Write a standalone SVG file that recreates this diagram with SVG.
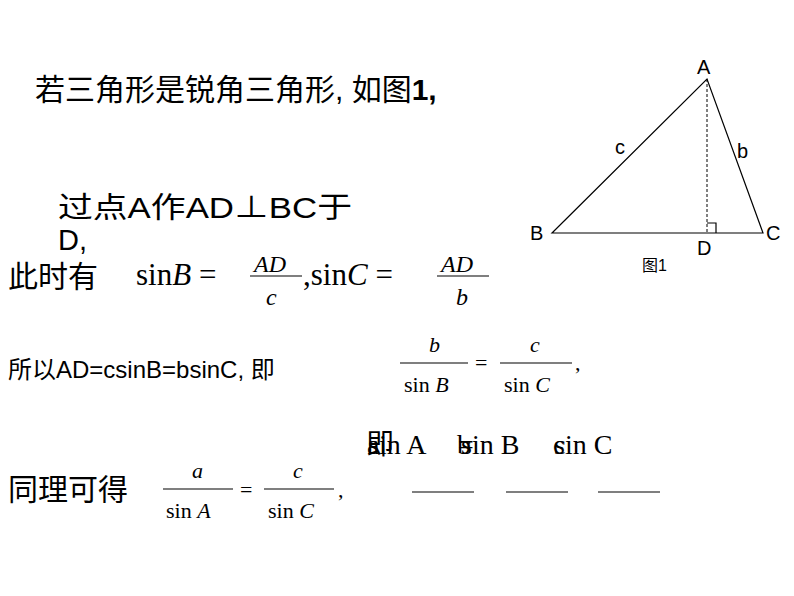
<svg xmlns="http://www.w3.org/2000/svg" width="794" height="596" viewBox="0 0 794 596">
<style>
.s{font-family:"Liberation Sans","Noto Sans CJK SC",sans-serif;fill:#000}
.m{font-family:"Liberation Serif",serif;fill:#000}
.i{font-style:italic}
.l{stroke:#000;stroke-width:1.2;fill:none}
</style>
<rect width="794" height="596" fill="#fff"/>
<text class="s" x="35" y="100" font-size="30">若三角形是锐角三角形, 如图<tspan font-weight="bold">1,</tspan></text>
<g id="triangle">
<path class="l" d="M552,233 L707,79 L763,233 Z"/>
<path d="M707,79 L707,233" stroke="#000" stroke-width="1" stroke-dasharray="3,2"/>
<path d="M707,223 H716 V233" class="l" stroke-width="1"/>
<text class="s" x="697" y="74" font-size="20">A</text>
<text class="s" x="530" y="240" font-size="20">B</text>
<text class="s" x="766" y="240" font-size="20">C</text>
<text class="s" x="697" y="255" font-size="20">D</text>
<text class="s" x="615" y="154" font-size="20">c</text>
<text class="s" x="737" y="158" font-size="20">b</text>
<text class="s" x="642" y="271" font-size="16">图1</text>
</g>
<text class="s" x="58" y="218" font-size="29" textLength="294" lengthAdjust="spacingAndGlyphs">过点A作AD⊥BC于</text>
<text class="s" x="58" y="250" font-size="29">D,</text>
<text class="s" x="8" y="287" font-size="30">此时有</text>
<text class="m" x="136" y="285" font-size="31">sin<tspan class="i">B</tspan> = </text>
<text class="m i" x="254" y="272" font-size="24">AD</text>
<line class="l" x1="250" y1="276" x2="302" y2="276"/>
<text class="m i" x="266" y="305" font-size="24">c</text>
<text class="m" x="303" y="285" font-size="31">,sin<tspan class="i">C</tspan> = </text>
<text class="m i" x="441" y="272" font-size="24">AD</text>
<line class="l" x1="437" y1="276" x2="489" y2="276"/>
<text class="m i" x="456" y="305" font-size="24">b</text>
<text class="s" x="8" y="378" font-size="24">所以AD=csinB=bsinC, 即</text>
<text class="m i" x="429" y="352" font-size="22">b</text>
<line class="l" x1="400" y1="363" x2="468" y2="363"/>
<text class="m" x="404" y="392" font-size="22">sin <tspan class="i">B</tspan></text>
<text class="m" x="475" y="370" font-size="22">=</text>
<text class="m i" x="530" y="352" font-size="22">c</text>
<line class="l" x1="500" y1="363" x2="572" y2="363"/>
<text class="m" x="504" y="392" font-size="22">sin <tspan class="i">C</tspan></text>
<text class="m" x="575" y="370" font-size="22">,</text>
<text class="s" x="8" y="500" font-size="30">同理可得</text>
<text class="m i" x="192" y="478" font-size="22">a</text>
<line class="l" x1="163" y1="489" x2="233" y2="489"/>
<text class="m" x="166" y="518" font-size="22">sin <tspan class="i">A</tspan></text>
<text class="m" x="240" y="497" font-size="22">=</text>
<text class="m i" x="293" y="478" font-size="22">c</text>
<line class="l" x1="264" y1="489" x2="334" y2="489"/>
<text class="m" x="268" y="518" font-size="22">sin <tspan class="i">C</tspan></text>
<text class="m" x="338" y="497" font-size="22">,</text>
<text class="s" x="366" y="454" font-size="28">即</text>
<text class="m" x="367" y="454" font-size="28">a</text>
<text class="m" x="368" y="454" font-size="28">sin A</text>
<text class="m" x="457" y="454" font-size="28">b</text>
<text class="m" x="458" y="454" font-size="28">=</text>
<text class="m" x="461" y="454" font-size="28">sin B</text>
<text class="m" x="553" y="454" font-size="28">c</text>
<text class="m" x="554" y="454" font-size="28">sin C</text>
<line class="l" x1="412" y1="492" x2="474" y2="492"/>
<line class="l" x1="506" y1="492" x2="568" y2="492"/>
<line class="l" x1="598" y1="492" x2="660" y2="492"/>
</svg>
